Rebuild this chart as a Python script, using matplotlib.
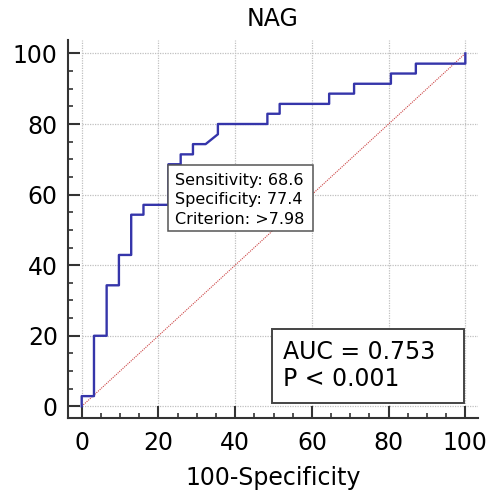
import matplotlib
matplotlib.use("Agg")
import matplotlib.pyplot as plt
from matplotlib.patches import Rectangle
from matplotlib.ticker import MultipleLocator

# ROC curve points (100-Specificity, Sensitivity)
fpr = [0, 0, 3.2, 3.2, 6.5, 6.5, 9.7, 9.7, 12.9, 12.9, 16.1, 16.1, 22.6, 22.6,
       25.8, 25.8, 29.0, 29.0, 32.3, 35.5, 35.5, 48.4, 48.4, 51.6, 51.6, 64.5,
       64.5, 71.0, 71.0, 80.6, 80.6, 87.1, 87.1, 100, 100]
tpr = [0, 2.9, 2.9, 20.0, 20.0, 34.3, 34.3, 42.9, 42.9, 54.3, 54.3, 57.1, 57.1,
       68.6, 68.6, 71.4, 71.4, 74.3, 74.3, 77.1, 80.0, 80.0, 82.9, 82.9, 85.7,
       85.7, 88.6, 88.6, 91.4, 91.4, 94.3, 94.3, 97.1, 97.1, 100]

cut_text = "Sensitivity: 68.6\nSpecificity: 77.4\nCriterion: >7.98"
auc_text = "AUC = 0.753\nP < 0.001"
ticks = [0, 20, 40, 60, 80, 100]

fig = plt.figure(figsize=(4.91, 4.92), dpi=100)
ax = fig.add_axes([0.1375, 0.1504, 0.836, 0.7683])
ax.set_xlim(-3.7, 103.3)
ax.set_ylim(-3.3, 103.8)

# grid lines only over the data range
ax.hlines(ticks, 0, 103.3, colors="#c0c0c0", linestyles=(0, (1, 1)), lw=0.9, zorder=0)
ax.vlines(ticks, 0, 103.8, colors="#c0c0c0", linestyles=(0, (1, 1)), lw=0.9, zorder=0)

ax.plot([0, 100], [0, 100], color="#cc4444", lw=0.8, ls=(0, (1, 1)), zorder=1)
ax.plot(fpr, tpr, color="#3535aa", lw=1.7, zorder=2)

# criterion box
ax.add_patch(Rectangle((22.5, 49.6), 37.8, 18.9, fc="white", ec="#555555", lw=1.1, zorder=3))
ax.text(24.3, 58.5, cut_text, fontsize=11.5, va="center", ha="left",
        linespacing=1.4, zorder=4)

# AUC box
ax.add_patch(Rectangle((49.6, 1.0), 50.1, 21.0, fc="white", ec="#444444", lw=1.4, zorder=3))
ax.text(52.5, 11.5, auc_text, fontsize=17, va="center", ha="left",
        linespacing=1.15, zorder=4)

for s in ["top", "right"]:
    ax.spines[s].set_visible(False)
for s in ["left", "bottom"]:
    ax.spines[s].set_color("#333333")
    ax.spines[s].set_linewidth(1.5)

ax.set_xticks(ticks)
ax.set_yticks(ticks)
ax.xaxis.set_minor_locator(MultipleLocator(5))
ax.yaxis.set_minor_locator(MultipleLocator(5))
ax.tick_params(which="major", direction="in", length=8.5, width=1.5, color="#333333",
               labelsize=17, pad=7)
ax.tick_params(which="minor", direction="in", length=3.6, width=1.2, color="#333333")
ax.tick_params(axis="x", pad=9)

ax.set_xlabel("100-Specificity", fontsize=17, labelpad=8)
ax.set_title("NAG", fontsize=17, pad=10)

fig.savefig("out.png", dpi=100)
